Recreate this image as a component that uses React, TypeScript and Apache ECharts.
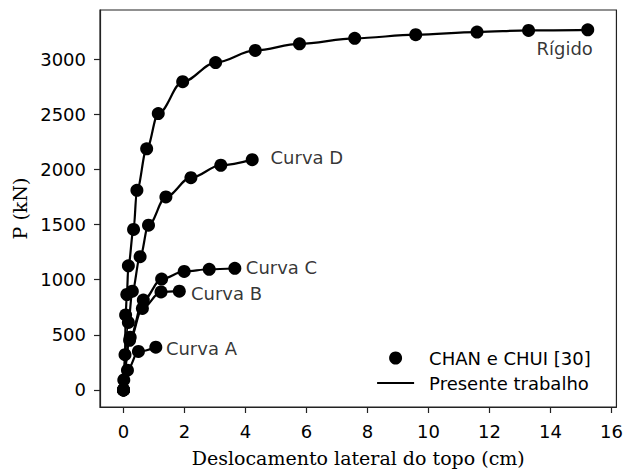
import React, { useEffect, useRef } from 'react';
import * as echarts from 'echarts';

// Load-displacement data (x: cm, y: kN)
const rigido: number[][] = [[0, 0], [0.01, 90], [0.05, 320], [0.07, 680], [0.11, 866], [0.16, 1126], [0.33, 1457], [0.44, 1812], [0.76, 2188], [1.14, 2508], [1.94, 2797], [3.02, 2971], [4.32, 3081], [5.77, 3141], [7.58, 3191], [9.58, 3224], [11.59, 3248], [13.28, 3263], [15.22, 3268]];
const curvaD: number[][] = [[0, 0], [0.16, 612], [0.29, 896], [0.545, 1209], [0.82, 1495], [1.39, 1752], [2.21, 1926], [3.19, 2039], [4.22, 2090]];
const curvaC: number[][] = [[0, 0], [0.22, 478], [0.65, 815], [1.25, 1006], [1.99, 1075], [2.81, 1095], [3.65, 1104]];
const curvaB: number[][] = [[0, 0], [0.2, 450], [0.62, 740], [1.23, 889], [1.83, 896]];
const curvaA: number[][] = [[0, 0], [0.13, 179], [0.49, 349], [1.06, 388]];

const curves = [rigido, curvaD, curvaC, curvaB, curvaA];

const annotationNames = ['Rígido', 'Curva D', 'Curva C', 'Curva B', 'Curva A'];
const annotationCoords: number[][] = [[13.54, 3099], [4.82, 2105], [4.01, 1110], [2.21, 878], [1.39, 376]];

const xTicks = [0, 2, 4, 6, 8, 10, 12, 14, 16];
const yTicks = [0, 500, 1000, 1500, 2000, 2500, 3000];

const SANS = 'DejaVu Sans';
const SERIF = 'DejaVu Serif';
const FS = 18;
const TFS = 19;

export default function App() {
  const ref = useRef<HTMLDivElement>(null);
  useEffect(() => {
    if (!ref.current) return;
    const chart = echarts.init(ref.current, undefined, { renderer: 'svg' });
    const series: any[] = [];
    curves.forEach((c) => {
      series.push({
        type: 'line',
        name: 'Presente trabalho',
        data: c,
        symbol: 'none',
        smooth: 0.35,
        smoothMonotone: 'x',
        lineStyle: { color: '#000', width: 2.2 },
        itemStyle: { color: '#000' },
        z: 2,
      });
    });
    curves.forEach((c) => {
      series.push({
        type: 'scatter',
        name: 'CHAN e CHUI [30]',
        data: c,
        symbol: 'circle',
        symbolSize: 13,
        itemStyle: { color: '#000', opacity: 1 },
        z: 3,
      });
    });
    series.push({
      type: 'scatter',
      name: 'annotations',
      data: annotationCoords.map((v, i) => ({ value: v, name: annotationNames[i] })),
      symbolSize: 0,
      label: {
        show: true,
        position: 'right',
        distance: 0,
        formatter: (p: any) => p.name,
        color: '#000',
        fontFamily: SANS,
        fontSize: FS,
        align: 'left',
        verticalAlign: 'middle',
      },
      z: 4,
      silent: true,
    });

    chart.setOption({
      animation: false,
      backgroundColor: '#fff',
      grid: {
        left: 100,
        top: 10,
        right: 8,
        bottom: 60,
        show: true,
        borderColor: '#222',
        borderWidth: 1.2,
        backgroundColor: 'transparent',
      },
      legend: {
        orient: 'vertical',
        left: 376,
        top: 349,
        padding: 0,
        itemWidth: 37,
        itemHeight: 13,
        itemGap: 7,
        textStyle: { fontFamily: SANS, fontSize: FS, color: '#000', padding: [0, 0, 0, 10] },
        data: [
          { name: 'CHAN e CHUI [30]', icon: 'circle', itemStyle: { color: '#000', opacity: 1 } },
          { name: 'Presente trabalho', itemStyle: { color: 'rgba(0,0,0,0)', opacity: 0, borderWidth: 0 }, lineStyle: { color: '#000', width: 2.2 } },
        ],
      },
      xAxis: {
        type: 'value',
        min: -0.77,
        max: 16.16,
        name: 'Deslocamento lateral do topo (cm)',
        nameLocation: 'middle',
        nameGap: 41,
        nameTextStyle: { fontFamily: SERIF, fontSize: TFS, color: '#000' },
        axisLine: { show: true, onZero: false, lineStyle: { color: '#222', width: 1.2 } },
        axisTick: { show: true, customValues: xTicks, length: 6, lineStyle: { color: '#222', width: 1.2 } },
        axisLabel: { customValues: xTicks, fontFamily: SANS, fontSize: FS, color: '#000', margin: 15, formatter: (v: number) => String(v) },
        splitLine: { show: false },
      },
      yAxis: {
        type: 'value',
        min: -155,
        max: 3448,
        name: 'P (kN)',
        nameLocation: 'middle',
        nameGap: 64,
        nameRotate: 90,
        nameTextStyle: { fontFamily: SERIF, fontSize: TFS, color: '#000' },
        axisLine: { show: true, onZero: false, lineStyle: { color: '#222', width: 1.2 } },
        axisTick: { show: true, customValues: yTicks, length: 6, lineStyle: { color: '#222', width: 1.2 } },
        axisLabel: { customValues: yTicks, fontFamily: SANS, fontSize: FS, color: '#000', margin: 14, formatter: (v: number) => String(v) },
        splitLine: { show: false },
      },
      series,
    });
    return () => chart.dispose();
  }, []);
  return <div ref={ref} style={{ position: 'fixed', left: 0, top: 0, width: 626, height: 472 }} />;
}
